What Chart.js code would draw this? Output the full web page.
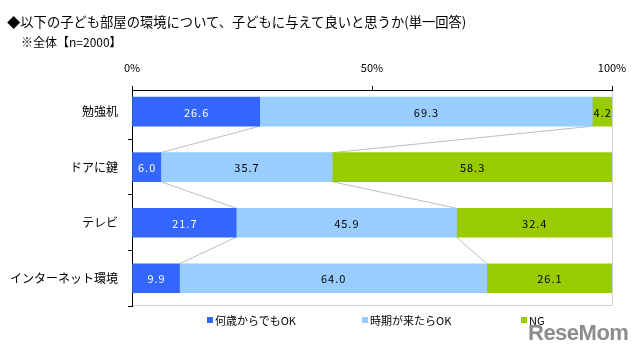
<!DOCTYPE html>
<html>
<head>
<meta charset="utf-8">
<script src="https://cdn.jsdelivr.net/npm/chart.js@4.4.1/dist/chart.umd.min.js"></script>
<style>
  body { margin: 0; background: #fff; }
  #wrap { position: relative; width: 640px; height: 358px; font-family: "Noto Sans CJK JP", sans-serif; color: #000; }
  #bars { position: absolute; left: 0; top: 0; }
  .title { position: absolute; left: 7px; top: 12px; font-size: 13.3px; white-space: nowrap; }
  .sub { position: absolute; left: 21px; top: 33px; font-size: 12px; white-space: nowrap; }
  #legend { position: absolute; top: 312px; left: 0; font-size: 11px; }
  #legend span { position: absolute; white-space: nowrap; display: flex; align-items: center; }
  #legend i { display: inline-block; width: 6px; height: 6px; margin-right: 2px; }
  .logo { position: absolute; left: 528px; top: 320px; font-family: "Liberation Sans", sans-serif; font-weight: bold; font-size: 22px; color: #8c8c8c; letter-spacing: -0.5px; }
</style>
</head>
<body>
<div id="wrap">
  <canvas id="bars" width="640" height="358"></canvas>
  <div class="title">◆以下の子ども部屋の環境について、子どもに与えて良いと思うか(単一回答)</div>
  <div class="sub">※全体【n=2000】</div>
  <div id="legend"></div>
  <div class="logo">ReseMom</div>
</div>
<script>
const labels = ['勉強机', 'ドアに鍵', 'テレビ', 'インターネット環境']
const seriesNames = ['何歳からでもOK', '時期が来たらOK', 'NG']
const anytime = [26.6, 6.0, 21.7, 9.9]
const whenTime = [69.3, 35.7, 45.9, 64.0]
const ng = [4.2, 58.3, 32.4, 26.1]
const xTicks = [0, 50, 100]
const colors = ['#3366ff', '#99ccff', '#99cc00']

const toPoints = (arr) => arr.map((v, i) => ({ x: v, y: i }))

// gray frame on the right / bottom of the plot
const plotFrame = {
  id: 'plotFrame',
  beforeDraw(chart) {
    const { ctx, chartArea: a } = chart
    ctx.save()
    ctx.strokeStyle = '#cfcfcf'
    ctx.lineWidth = 1
    ctx.strokeRect(a.left + 0.5, a.top + 0.5, a.right - a.left, a.bottom - a.top - 1)
    ctx.restore()
  }
}

// series lines between the stacked segments
const seriesLines = {
  id: 'seriesLines',
  beforeDatasetsDraw(chart) {
    const ctx = chart.ctx
    ctx.save()
    ctx.strokeStyle = '#bdbdbd'
    ctx.lineWidth = 1
    ;[0, 1].forEach(di => {
      const bars = chart.getDatasetMeta(di).data
      for (let i = 0; i < bars.length - 1; i++) {
        const a = bars[i], b = bars[i + 1]
        ctx.beginPath()
        ctx.moveTo(a.x, a.y + a.height / 2)
        ctx.lineTo(b.x, b.y - b.height / 2)
        ctx.stroke()
      }
    })
    ctx.restore()
  }
}

const segLabels = {
  id: 'segLabels',
  afterDatasetsDraw(chart) {
    const ctx = chart.ctx
    ctx.save()
    ctx.font = '11px "Noto Sans CJK JP"'
    ctx.letterSpacing = '1px'
    ctx.textAlign = 'center'
    ctx.textBaseline = 'middle'
    chart.data.datasets.forEach((ds, di) => {
      chart.getDatasetMeta(di).data.forEach((bar, i) => {
        const right = Math.min(bar.x, chart.chartArea.right)
        ctx.fillStyle = di === 0 ? '#fff' : '#000'
        ctx.fillText(ds.data[i].x.toFixed(1), (right + bar.base) / 2 + 0.5, bar.y + 1)
      })
    })
    ctx.restore()
  }
}

window.myBar = new Chart(document.getElementById('bars'),
  {
    type: 'bar',
    data: {
      datasets: [
        { label: seriesNames[0], backgroundColor: colors[0], data: toPoints(anytime) },
        { label: seriesNames[1], backgroundColor: colors[1], data: toPoints(whenTime) },
        { label: seriesNames[2], backgroundColor: colors[2], data: toPoints(ng) },
      ],
    },
    options: {
      responsive: false,
      animation: false,
      indexAxis: 'y',
      barThickness: 29,
      layout: { padding: { left: 0, top: 0, right: 28, bottom: 52 } },
      plugins: {
        legend: { display: false },
        tooltip: { enabled: false },
      },
      scales: {
        x: {
          position: 'top',
          min: 0,
          max: 100,
          stacked: true,
          afterFit: (s) => { s.height = 90 },
          afterBuildTicks: (s) => { s.ticks = xTicks.map(v => ({ value: v })) },
          ticks: {
            callback: (v) => v + '%',
            padding: 12,
            maxRotation: 0,
            color: '#000',
            font: { family: '"Noto Sans CJK JP"', size: 11 },
          },
          grid: { drawOnChartArea: false, tickLength: 4, color: '#000' },
          border: { color: '#000' },
        },
        y: {
          type: 'linear',
          reverse: true,
          offset: false,
          min: -0.39,
          max: 3.5,
          stacked: true,
          afterFit: (s) => { s.width = 132 },
          afterBuildTicks: (s) => { s.ticks = labels.map((l, i) => ({ value: i })) },
          ticks: {
            callback: (v, i) => labels[i],
            padding: 10,
            autoSkip: false,
            color: '#000',
            font: { family: '"Noto Sans CJK JP"', size: 12 },
          },
          grid: { offset: true, drawOnChartArea: false, tickLength: 4, color: '#000' },
          border: { color: '#000' },
        },
      },
    },
    plugins: [plotFrame, seriesLines, segLabels],
  }
)

// legend
const legendX = [207, 362, 521]
const legend = document.getElementById('legend')
seriesNames.forEach((name, i) => {
  const s = document.createElement('span')
  s.style.left = legendX[i] + 'px'
  s.innerHTML = '<i style="background:' + colors[i] + '"></i>' + name
  legend.appendChild(s)
})
</script>
</body>
</html>
